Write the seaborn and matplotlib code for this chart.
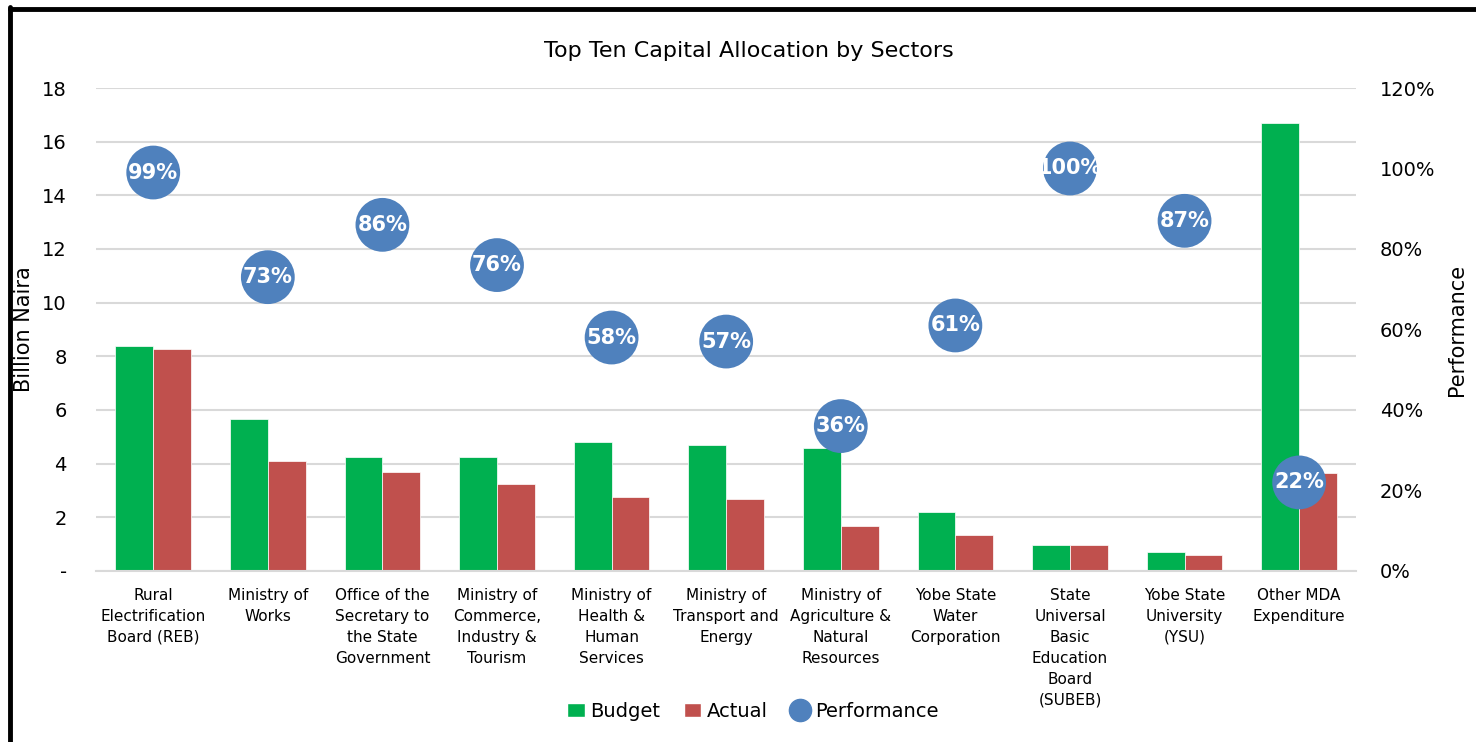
"""
Top ten capital allocation by sectors - budget vs actual with performance ratio
"""

import numpy as np
import pandas as pd
import matplotlib
matplotlib.use("Agg")
import matplotlib.pyplot as plt
from matplotlib.lines import Line2D
from matplotlib.patches import Patch
from matplotlib.ticker import PercentFormatter
import seaborn as sns

# Data (billion naira)
sectors = [
    "Rural\nElectrification\nBoard (REB)",
    "Ministry of\nWorks",
    "Office of the\nSecretary to\nthe State\nGovernment",
    "Ministry of\nCommerce,\nIndustry &\nTourism",
    "Ministry of\nHealth &\nHuman\nServices",
    "Ministry of\nTransport and\nEnergy",
    "Ministry of\nAgriculture &\nNatural\nResources",
    "Yobe State\nWater\nCorporation",
    "State\nUniversal\nBasic\nEducation\nBoard\n(SUBEB)",
    "Yobe State\nUniversity\n(YSU)",
    "Other MDA\nExpenditure",
]
budget = [8.37, 5.66, 4.24, 4.25, 4.81, 4.70, 4.58, 2.20, 0.97, 0.70, 16.68]
actual = [8.27, 4.10, 3.67, 3.23, 2.77, 2.69, 1.67, 1.33, 0.96, 0.61, 3.66]
performance = [0.99, 0.73, 0.86, 0.76, 0.58, 0.57, 0.36, 0.61, 1.00, 0.87, 0.22]

left_ticks = [0, 2, 4, 6, 8, 10, 12, 14, 16, 18]
left_tick_labels = ["-", "2", "4", "6", "8", "10", "12", "14", "16", "18"]

GREEN = "#00B050"
RED = "#C0504D"
BLUE = "#4F81BD"

sns.set_style("white")
plt.rcParams["font.family"] = ["DejaVu Sans"]
plt.rcParams["text.color"] = "black"
plt.rcParams["xtick.color"] = "black"
plt.rcParams["ytick.color"] = "black"
plt.rcParams["axes.labelcolor"] = "black"

df = pd.DataFrame({"sector": sectors, "Budget": budget, "Actual": actual})
long_df = df.melt(id_vars="sector", var_name="series", value_name="value")

fig = plt.figure(figsize=(14.76, 7.42), dpi=100)
ax = fig.add_axes([0.065, 0.2305, 0.854, 0.6509])

sns.barplot(data=long_df, x="sector", y="value", hue="series",
            palette={"Budget": GREEN, "Actual": RED}, width=0.66,
            saturation=1, ax=ax, legend=False, edgecolor="white", linewidth=0.5)

ax.set_ylim(0, 18)
ax.set_yticks(left_ticks)
ax.set_yticklabels(left_tick_labels, fontsize=14)
ax.yaxis.grid(True, color="#D9D9D9", linewidth=1.5)
ax.set_axisbelow(True)
ax.tick_params(axis="both", length=0)
ax.tick_params(axis="x", pad=12, labelsize=11)
ax.tick_params(axis="y", pad=21)
for lbl in ax.get_xticklabels():
    lbl.set_linespacing(1.5)
ax.set_xlabel("")
ax.set_ylabel("Billion Naira", fontsize=15, labelpad=6)
for side in ["top", "right", "left"]:
    ax.spines[side].set_visible(False)
ax.spines["bottom"].set_color("#D9D9D9")
ax.spines["bottom"].set_linewidth(1.5)

# Performance on secondary axis
ax2 = ax.twinx()
x_pos = np.arange(len(sectors))
sns.scatterplot(x=x_pos, y=performance, ax=ax2, s=1500, color=BLUE,
                edgecolor="none", zorder=5, legend=False)
for xp, p in zip(x_pos, performance):
    ax2.text(xp, p, f"{p:.0%}", color="white", fontsize=15, fontweight="bold",
             ha="center", va="center", zorder=6)
ax2.set_ylim(0, 1.2)
ax2.set_yticks(np.arange(0, 1.21, 0.2))
ax2.yaxis.set_major_formatter(PercentFormatter(1.0, decimals=0))
ax2.tick_params(axis="y", length=0, labelsize=14, pad=17)
ax2.set_ylabel("Performance", fontsize=15, labelpad=8)
for side in ["top", "right", "left", "bottom"]:
    ax2.spines[side].set_visible(False)
ax.set_xlim(-0.5, len(sectors) - 0.5)
ax2.set_xlim(-0.5, len(sectors) - 0.5)

ax.set_title("Top Ten Capital Allocation by Sectors", fontsize=16, pad=22, x=0.518)

handles = [
    Patch(facecolor=GREEN, label="Budget"),
    Patch(facecolor=RED, label="Actual"),
    Line2D([], [], marker="o", linestyle="none", markersize=16,
           markerfacecolor=BLUE, markeredgecolor=BLUE, label="Performance"),
]
fig.legend(handles=handles, loc="lower center", bbox_to_anchor=(0.51, 0.005),
           ncol=3, frameon=False, fontsize=14, handlelength=0.9,
           handletextpad=0.3, columnspacing=1.2)

# chart frame (left and top edges visible)
fig.add_artist(Line2D([0.0065, 0.0065], [0, 0.99], transform=fig.transFigure,
                      color="black", linewidth=3.5))
fig.add_artist(Line2D([0.0065, 1.0], [0.988, 0.988], transform=fig.transFigure,
                      color="black", linewidth=3.5))

fig.savefig("out.png", dpi=100)
